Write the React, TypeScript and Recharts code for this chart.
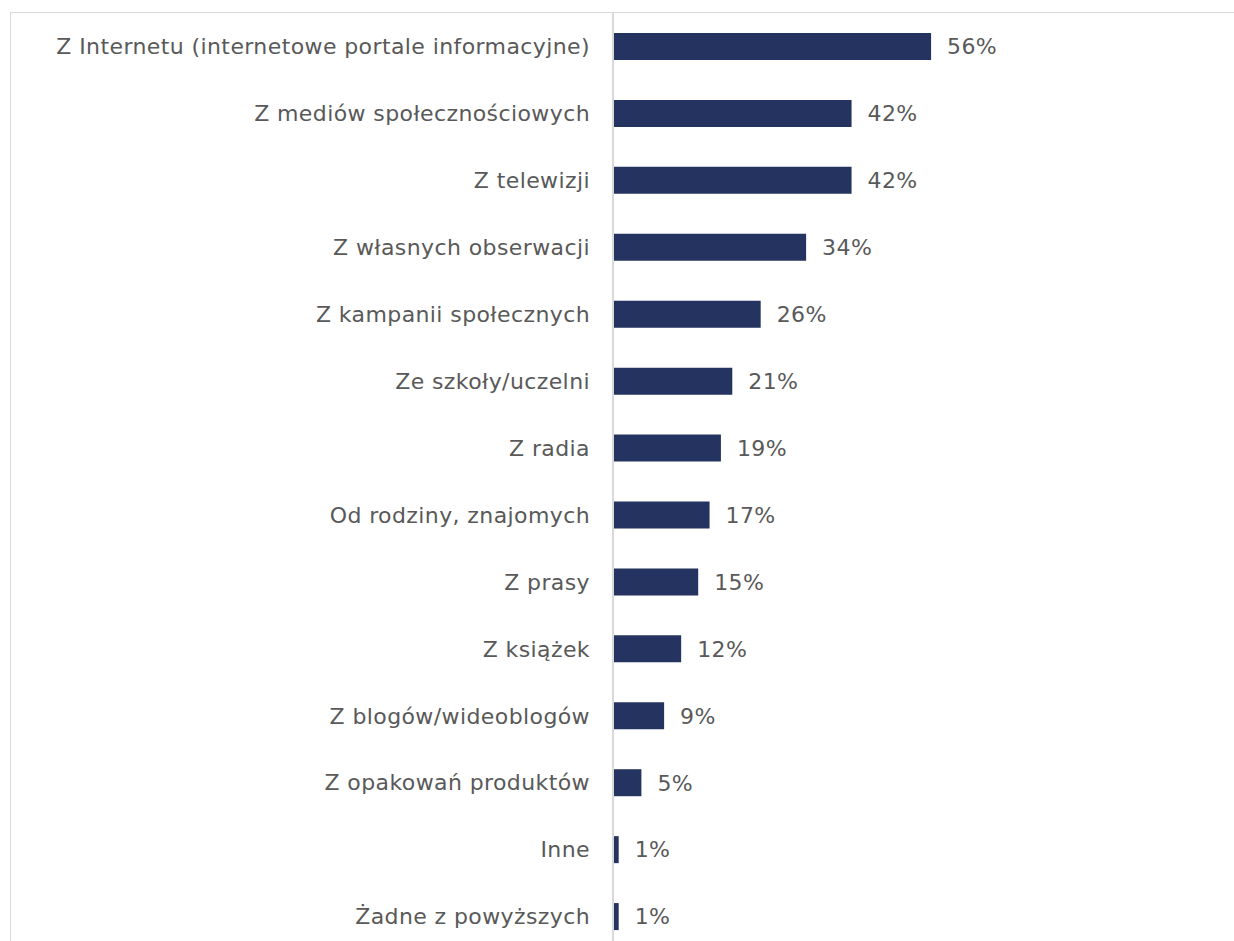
import React from 'react';
import { BarChart, Bar, XAxis, YAxis, LabelList } from 'recharts';

const categories = [
  'Z Internetu (internetowe portale informacyjne)',
  'Z mediów społecznościowych',
  'Z telewizji',
  'Z własnych obserwacji',
  'Z kampanii społecznych',
  'Ze szkoły/uczelni',
  'Z radia',
  'Od rodziny, znajomych',
  'Z prasy',
  'Z książek',
  'Z blogów/wideoblogów',
  'Z opakowań produktów',
  'Inne',
  'Żadne z powyższych',
];

const shares = [56, 42, 42, 34, 26, 21, 19, 17, 15, 12, 9, 5, 1, 1];

const data = categories.map((name, i) => ({ name, value: shares[i] }));

const FONT = '"DejaVu Sans", sans-serif';
const TEXT = '#595959';
const textStyle = { fill: TEXT, fontSize: 22, fontFamily: FONT, letterSpacing: 0.4 };

export default function App() {
  return (
    <div
      style={{
        position: 'absolute',
        left: 0,
        top: 0,
        width: 1234,
        height: 941,
        overflow: 'hidden',
        background: '#fff',
        fontFamily: FONT,
      }}
    >
      {/* chart frame, only top and left edges are visible */}
      <div
        style={{
          position: 'absolute',
          left: 10,
          top: 12,
          width: 1260,
          height: 960,
          border: '1.5px solid #d9d9d9',
        }}
      />
      <div style={{ position: 'absolute', left: 0, top: 0 }}>
        <BarChart
          width={1234}
          height={950}
          data={data}
          layout="vertical"
          margin={{ top: 13, right: 53, bottom: 0, left: 0 }}
          barCategoryGap={0}
        >
          <XAxis type="number" domain={[0, 100]} hide />
          <YAxis
            type="category"
            dataKey="name"
            width={613}
            tickSize={0}
            tickMargin={23}
            tickLine={false}
            axisLine={{ stroke: '#d9d9d9', strokeWidth: 2 }}
            tick={textStyle}
            interval={0}
          />
          <Bar dataKey="value" fill="#24335f" barSize={27} isAnimationActive={false}>
            <LabelList
              dataKey="value"
              position="right"
              offset={16}
              formatter={(v: number) => `${v}%`}
              style={textStyle}
            />
          </Bar>
        </BarChart>
      </div>
    </div>
  );
}
